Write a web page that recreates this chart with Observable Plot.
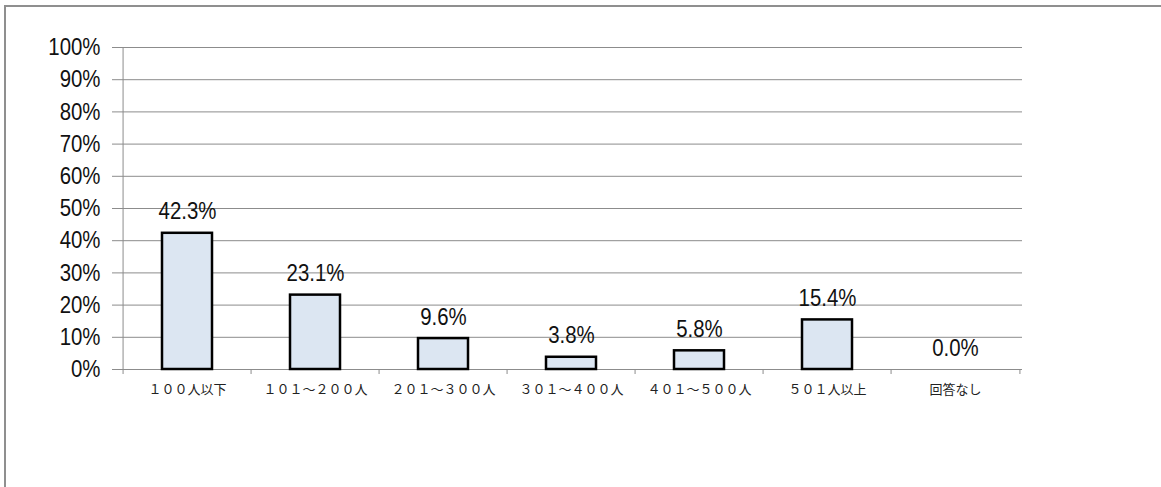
<!DOCTYPE html>
<html>
<head>
<meta charset="utf-8">
<script src="https://cdn.jsdelivr.net/npm/d3@7"></script>
<script src="https://cdn.jsdelivr.net/npm/@observablehq/plot@0.6"></script>
<style>
  html, body { margin: 0; padding: 0; background: #fff; overflow: hidden; }
  #frame { position: absolute; left: 4px; top: 5px; width: 3000px; height: 3000px;
           border: 2px solid #8f8f8f; box-sizing: border-box; }
  #chart { position: absolute; left: 0; top: 0; }
</style>
</head>
<body>
<div id="frame"></div>
<div id="chart"></div>
<script>
const categories = ["１００人以下", "１０１～２００人", "２０１～３００人", "３０１～４００人", "４０１～５００人", "５０１人以上", "回答なし"];
const values = [42.3, 23.1, 9.6, 3.8, 5.8, 15.4, 0.0];
const yTicks = [0, 10, 20, 30, 40, 50, 60, 70, 80, 90, 100];

const data = categories.map((c, i) => ({cat: c, value: values[i]}));

const W = 1161, H = 487;
const ML = 120, MR = 139, MT = 47, MB = 118;
const step = (W - ML - MR) / categories.length;
const numFont = "'Liberation Sans', Arial, sans-serif";
const cjkFont = "'Noto Sans CJK JP', 'Noto Sans', sans-serif";
const grid = "#8c8c8c";

const plot = Plot.plot({
  width: W,
  height: H,
  marginLeft: ML,
  marginRight: MR,
  marginTop: MT,
  marginBottom: MB,
  style: {fontFamily: numFont, background: "transparent", overflow: "visible"},
  x: {type: "band", domain: categories, padding: 0, axis: null},
  y: {domain: [0, 100], axis: null},
  marks: [
    Plot.gridY(yTicks, {stroke: grid, strokeOpacity: 1, strokeWidth: 1}),
    // y axis line
    Plot.ruleX([categories[0]], {x: d => d, y1: 0, y2: 100, dx: -step / 2, stroke: grid, strokeWidth: 1}),
    // y tick marks and labels
    Plot.axisY(yTicks, {
      label: null,
      tickSize: 8, tickPadding: 12, stroke: grid,
      tickFormat: d => d + "%", fontSize: 24, fill: "#111", fontFamily: numFont,
      className: "narrow"
    }),
    // x boundary ticks
    Plot.ruleX(categories, {x: d => d, y1: 0, y2: 0, dx: -step / 2, insetBottom: -5, stroke: grid}),
    Plot.ruleX([categories[categories.length - 1]], {x: d => d, y1: 0, y2: 0, dx: step / 2, insetBottom: -5, stroke: grid}),
    Plot.barY(data, {
      x: "cat", y: "value",
      fill: "#dce6f2", stroke: "#000", strokeWidth: 2.5,
      insetLeft: 39, insetRight: 39
    }),
    Plot.text(data, {
      x: "cat", y: "value",
      text: d => d.value.toFixed(1) + "%",
      lineAnchor: "bottom", dy: -14,
      fontSize: 24, fill: "#111", fontFamily: numFont,
      className: "narrow"
    }),
    Plot.text(categories, {
      x: d => d, y: 0, text: d => d,
      lineAnchor: "middle", dy: 20,
      fontSize: 13, fill: "#222", fontFamily: cjkFont
    })
  ]
});
// condensed look of the original chart's numeric font
d3.select(plot).selectAll(".narrow text").each(function() {
  const t = this.getAttribute("transform") || "";
  this.setAttribute("transform", t + " scale(0.85,1)");
});
document.getElementById("chart").appendChild(plot);
</script>
</body>
</html>
